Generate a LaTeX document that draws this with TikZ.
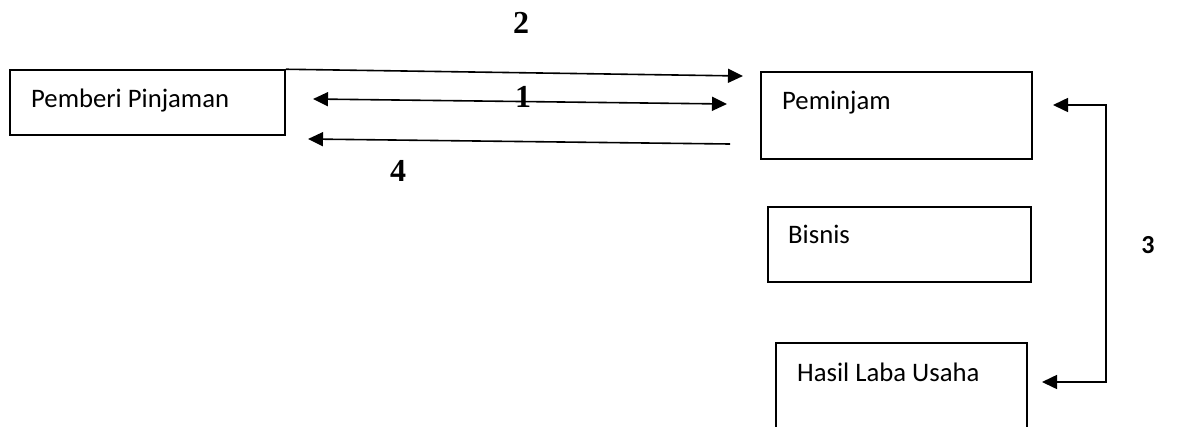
\documentclass[tikz,border=0pt]{standalone}
\usepackage{fontspec}
\setmainfont{Carlito}
\newfontfamily\numfont{Liberation Serif}
\usetikzlibrary{arrows.meta}
\tikzset{
  box/.style={draw, line width=1.5pt, inner sep=0pt},
  lbl/.style={inner sep=0pt, anchor=base west, font=\fontsize{26.7}{30}\selectfont},
  num/.style={inner sep=0pt, font=\numfont\bfseries\fontsize{32}{36}\selectfont},
  tip/.tip={Triangle[length=15pt,width=14pt]},
  link/.style={line width=1.6pt, -tip},
  biglink/.style={line width=1.6pt, tip-tip},
}
\begin{document}
\begin{tikzpicture}[x=1pt,y=-1pt]
\useasboundingbox (0,0) rectangle (1182,426);
\clip (0,0) rectangle (1182,426);
\fill[white] (0,0) rectangle (1182,426);

% boxes
\node[box, minimum width=275pt, minimum height=65pt] (lender) at (147.5,102.5) {};
\node[box, minimum width=271pt, minimum height=87pt] (borrower) at (896.5,115.5) {};
\node[box, minimum width=263pt, minimum height=75pt] (business) at (899.5,244.5) {};
\node[box, minimum width=251pt, minimum height=102pt] (profit) at (901.5,394) {};

% box texts
\node[lbl] (lenderT) at (31,107) {Pemberi Pinjaman};
\node[lbl] (borrowerT) at (782,109) {Peminjam};
\node[lbl] (businessT) at (788,243) {Bisnis};
\node[lbl] (profitT) at (797,381) {Hasil Laba Usaha};

% arrow end points
\coordinate (e2) at (743,76);
\coordinate (s1) at (313,99);
\coordinate (e1) at (727,104);
\coordinate (s4) at (730,144);
\coordinate (e4) at (308,139);
\coordinate (top3) at (1053,105);
\coordinate (bot3) at (1042,382);
\coordinate (rail) at (1106,0);

% connectors
\draw[link] (lender.north east) -- (e2);
\draw[biglink] (s1) -- (e1);
\draw[link] (s4) -- (e4);
\draw[biglink] (top3) -- (top3 -| rail) -- (bot3 -| rail) -- (bot3);

% step numbers
\node[num] (n2) at (521,23) {2};
\node[num] (n1) at (523,97) {1};
\node[num] (n4) at (398,171) {4};
\node[inner sep=0pt, font=\bfseries\fontsize{26}{30}\selectfont] (n3) at (1148,245) {3};
\end{tikzpicture}
\end{document}
